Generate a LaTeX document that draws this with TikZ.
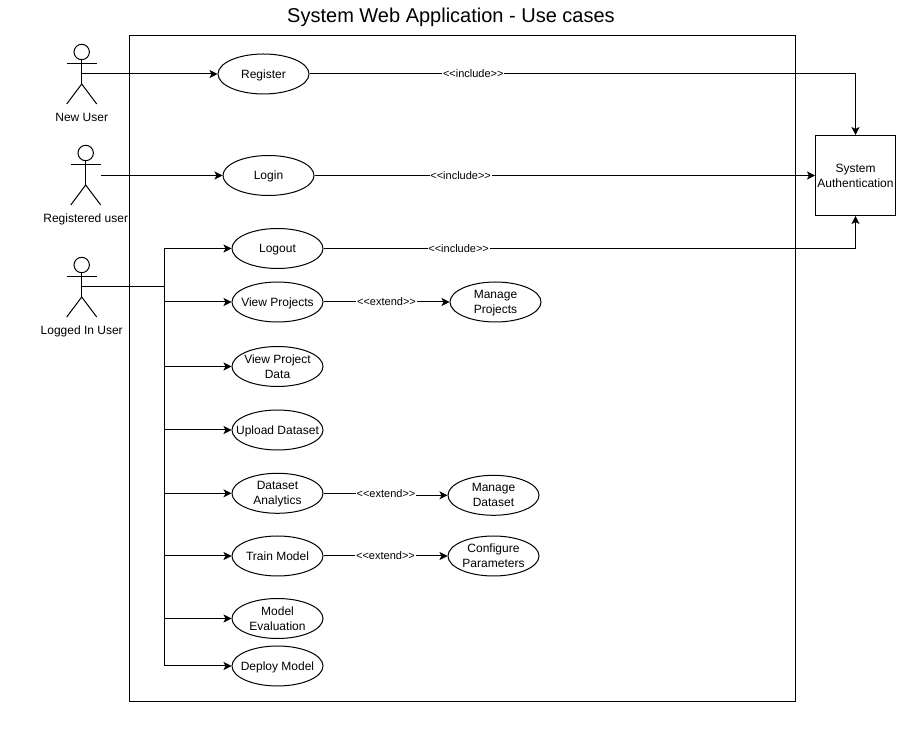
\documentclass[tikz,border=0pt]{standalone}
\usepackage{fontspec}
\setmainfont{Liberation Sans}
\usetikzlibrary{shapes.geometric,arrows.meta,positioning}

\begin{document}
\begin{tikzpicture}[
    x=0.75pt, y=-0.75pt,
    line width=0.75pt,
    every node/.style={font=\fontsize{9}{11.25}\selectfont, align=center},
    usecase/.style={ellipse, draw, fill=white, minimum width=68.25pt, minimum height=30pt, inner xsep=-12pt, inner ysep=-3pt},
    single/.style={usecase, text height=6.5pt, text depth=0pt},
    sysbox/.style={rectangle, draw, fill=white, minimum size=60pt, inner sep=0pt},
    arrow/.style={-{Stealth[length=6pt, width=6pt, inset=1.5pt]}},
    lbl/.style={fill=white, inner xsep=0.5pt, inner ysep=0.5pt, font=\fontsize{8.25}{10}\selectfont}
]
    \useasboundingbox (0,0) rectangle (918,737);
    \node[font=\fontsize{15}{18}\selectfont] (title) at (451,17.5) {System Web Application - Use cases};
    \node[draw, minimum width=499.5pt, minimum height=498.75pt, inner sep=0pt] (boundary) at (462.5,368.5) {};

    % actors
    \foreach \ax/\ay/\nm/\txt in {81.7/52/newuser/New User, 85.7/153/reguser/Registered user, 81.7/265/loggeduser/Logged In User} {
        \draw (\ax,\ay) circle[radius=7.7];
        \draw (\ax,\ay+7.7) -- (\ax,\ay+32);
        \draw (\ax-15,\ay+12) -- (\ax+15,\ay+12);
        \draw (\ax-15,\ay+52) -- (\ax,\ay+32) -- (\ax+15,\ay+52);
        \node[text depth=0pt] (\nm) at (\ax,\ay+65.5) {\txt};
    }
    \coordinate (newuserport) at (81.7,74);
    \coordinate (reguserport) at (100.7,175.5);
    \coordinate (loggedport) at (81.7,287);
    \coordinate (bus) at (164.3,287);

    % use cases
    \node[single] (register) at (263.5,74) {Register};
    \node[single] (login) at (268.5,175.5) {Login};
    \node[single] (logout) at (277.5,248.5) {Logout};
    \node[single] (viewprojects) at (277.5,302) {View Projects};
    \node[usecase] (viewdata) at (277.5,366.5) {View Project\\Data};
    \node[single] (upload) at (277.5,430) {Upload Dataset};
    \node[usecase, text depth=0pt] (analytics) at (277.5,493.3) {Dataset\\Analytics};
    \node[single] (train) at (277.5,556) {Train Model};
    \node[usecase] (evaluation) at (277.5,618.5) {Model\\Evaluation};
    \node[single] (deploy) at (277.5,666) {Deploy Model};
    \node[usecase, text depth=0pt] (manageprojects) at (495.5,302) {Manage\\Projects};
    \node[usecase] (managedataset) at (493.5,495.3) {Manage\\Dataset};
    \node[usecase] (configure) at (493.5,556) {Configure\\Parameters};
    \node[sysbox] (auth) at (855.5,175.5) {System\\Authentication};
    \coordinate (dsstep) at (386,495.3);

    % connectors
    \draw[arrow] (newuserport) -- (register);
    \draw[arrow] (reguserport) -- (login);
    \draw (loggedport) -- (bus);
    \foreach \uc in {logout,viewprojects,viewdata,upload,analytics,train,evaluation,deploy} {
        \draw[arrow] (bus) |- (\uc);
    }
    \draw[arrow] (register) -| node[lbl, pos=0.15] {<{}<include>{}>} (auth);
    \draw[arrow] (login) -- node[lbl, pos=0.292] {<{}<include>{}>} (auth);
    \draw[arrow] (logout) -| node[lbl, pos=0.127] {<{}<include>{}>} (auth);
    \draw[arrow] (viewprojects) -- node[lbl] {<{}<extend>{}>} (manageprojects);
    \draw[arrow] (analytics) -| (dsstep) -- (managedataset);
    \node[lbl] (dslabel) at (386,494) {<{}<extend>{}>};
    \draw[arrow] (train) -- node[lbl] {<{}<extend>{}>} (configure);
\end{tikzpicture}
\end{document}
